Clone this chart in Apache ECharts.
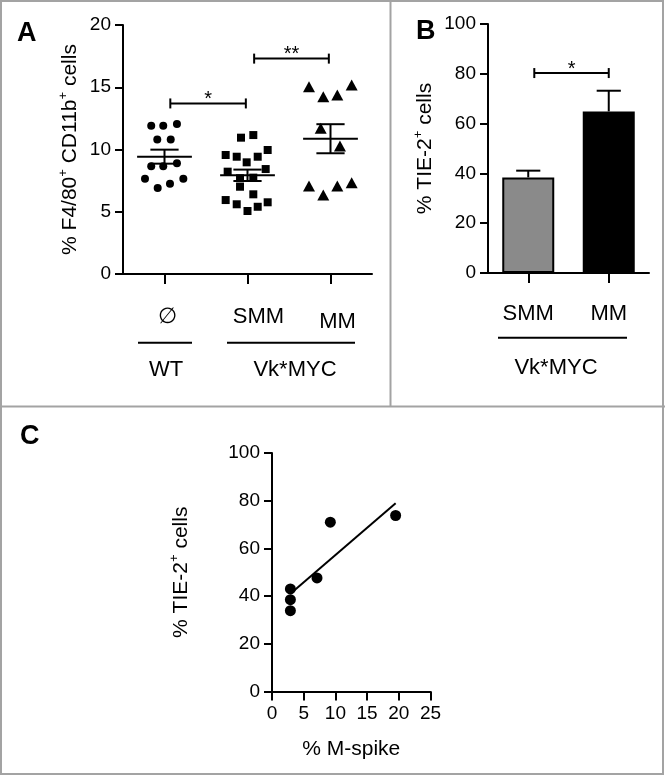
<!DOCTYPE html>
<html>
<head>
<meta charset="utf-8">
<script src="https://cdn.jsdelivr.net/npm/echarts@6/dist/echarts.min.js"></script>
<style>
  html, body { margin: 0; padding: 0; background: #ffffff; }
  #chart { width: 665px; height: 776px; }
</style>
</head>
<body>
<div id="chart"></div>
<script>
// ---------------- Panel A data ----------------
const groupsA = ['\u2205', 'SMM', 'MM'];
const yTicksA = [0, 5, 10, 15, 20];
const wtValues  = [11.9, 11.9, 12.05, 10.8, 10.8, 8.65, 8.65, 8.9, 7.65, 7.65, 6.9, 7.25];
const wtJitter  = [-0.16, -0.015, 0.15, -0.087, 0.075, -0.16, -0.015, 0.15, -0.235, 0.227, -0.082, 0.066];
const smmValues = [10.95, 11.16, 9.56, 9.42, 9.42, 9.96, 8.97, 8.22, 8.43, 7.69, 7.74, 7.01, 5.94, 5.6, 5.06, 5.4, 5.76, 6.4];
const smmJitter = [-0.078, 0.07, -0.263, -0.13, 0.123, 0.243, -0.01, -0.239, 0.219, -0.09, 0.07, -0.09, -0.263, -0.13, 0, 0.123, 0.243, 0.07];
const mmValues  = [15.05, 14.24, 14.38, 15.18, 11.7, 10.28, 7.07, 6.35, 7.07, 7.33];
const mmJitter  = [-0.259, -0.087, 0.082, 0.255, -0.118, 0.114, -0.259, -0.087, 0.082, 0.255];
const sigAStart = [0.07, 1.08];
const sigAEnd   = [0.98, 1.98];
const sigAY     = [13.7, 17.3];
const sigALabel = ['*', '**'];

// ---------------- Panel B data ----------------
const groupsB = ['SMM', 'MM'];
const yTicksB = [0, 20, 40, 60, 80, 100];
const barMeans = [38.4, 64.9];
const barErr   = [2.7, 8.3];
const sigBStart = [0.075];
const sigBEnd   = [1.0];
const sigBY     = [80.3];
const sigBLabel = ['*'];

// ---------------- Panel C data ----------------
const xTicksC = [0, 5, 10, 15, 20, 25];
const yTicksC = [0, 20, 40, 60, 80, 100];
const mSpike = [2.9, 2.9, 2.9, 7.1, 9.2, 19.5];
const tie2   = [43.0, 38.5, 33.9, 47.6, 71.0, 73.8];

// ---------------- helpers ----------------
const FONT = "'Liberation Sans', Arial, Helvetica, sans-serif";
function meanSem(arr) {
  const n = arr.length;
  const m = arr.reduce((a, b) => a + b, 0) / n;
  const v = arr.reduce((a, b) => a + (b - m) * (b - m), 0) / (n - 1);
  return [m, Math.sqrt(v) / Math.sqrt(n)];
}
function linFit(xs, ys) {
  const n = xs.length;
  const mx = xs.reduce((a, b) => a + b, 0) / n;
  const my = ys.reduce((a, b) => a + b, 0) / n;
  let sxx = 0, sxy = 0;
  for (let i = 0; i < n; i++) { sxx += (xs[i] - mx) ** 2; sxy += (xs[i] - mx) * (ys[i] - my); }
  const b = sxy / sxx, a = my - b * mx;
  const x0 = Math.min(...xs), x1 = Math.max(...xs);
  return [[x0, a + b * x0], [x1, a + b * x1]];
}
const statsA = [wtValues, smmValues, mmValues].map((arr, i) => { const s = meanSem(arr); return [i, s[0], s[1]]; });
const fitC = linFit(mSpike, tie2);

const axisLine = { show: true, onZero: false, lineStyle: { color: '#000', width: 2 } };
const axisTick = { show: true, length: 8, lineStyle: { color: '#000', width: 2 } };
const tickLabel = { color: '#000', fontSize: 19, fontFamily: FONT, margin: 12 };
const supRich = {
  sup: { fontSize: 13, fontFamily: FONT, color: '#000', verticalAlign: 'top', lineHeight: 14 }
};
const nameStyle = { color: '#000', fontSize: 21, fontFamily: FONT, lineHeight: 26, rich: supRich };

function bracketRender(starts, ends, ys, labels) {
  return function (params, api) {
    const i = params.dataIndex;
    const p1 = api.coord([starts[i], ys[i]]);
    const p2 = api.coord([ends[i], ys[i]]);
    const st = { stroke: '#000', lineWidth: 2 };
    return {
      type: 'group',
      children: [
        { type: 'line', shape: { x1: p1[0], y1: p1[1], x2: p2[0], y2: p2[1] }, style: st },
        { type: 'line', shape: { x1: p1[0], y1: p1[1] - 5, x2: p1[0], y2: p1[1] + 5 }, style: st },
        { type: 'line', shape: { x1: p2[0], y1: p2[1] - 5, x2: p2[0], y2: p2[1] + 5 }, style: st },
        { type: 'text', style: { text: labels[i], x: (p1[0] + p2[0]) / 2, y: p1[1] - 4,
            textAlign: 'center', textVerticalAlign: 'middle', fontSize: 20, fontFamily: FONT, fill: '#000' } }
      ]
    };
  };
}

const chart = echarts.init(document.getElementById('chart'), null, { renderer: 'canvas' });

const option = {
  backgroundColor: '#ffffff',
  animation: false,
  grid: [
    { left: 123, top: 25, width: 249, height: 249 },
    { left: 488, top: 24, width: 161, height: 249 },
    { left: 272, top: 453, width: 158.5, height: 238.5 }
  ],
  xAxis: [
    { // 0: panel A categories
      type: 'category', gridIndex: 0, data: groupsA, boundaryGap: true,
      axisLine: axisLine, axisTick: Object.assign({ alignWithLabel: true, interval: 0 }, axisTick, { length: 10 }),
      axisLabel: {
        interval: 0, color: '#000', fontSize: 22, fontFamily: FONT, margin: 32, hideOverlap: false,
        formatter: function (v, i) { return ['{a|' + v + '}', '{s|' + v + '}', '{m|' + v + '}'][i]; },
        rich: {
          a: { fontSize: 22, fontFamily: FONT, color: '#000', padding: [0, 0, 0, 6] },
          s: { fontSize: 22, fontFamily: FONT, color: '#000', padding: [0, 0, 0, 22] },
          m: { fontSize: 22, fontFamily: FONT, color: '#000', padding: [5, 0, 0, 14] }
        }
      },
      splitLine: { show: false }
    },
    { // 1: panel A hidden value axis
      type: 'value', gridIndex: 0, min: -0.5, max: groupsA.length - 0.5, show: false,
      axisLine: { onZero: false }
    },
    { // 2: panel B categories
      type: 'category', gridIndex: 1, data: groupsB, boundaryGap: true,
      axisLine: axisLine, axisTick: Object.assign({ alignWithLabel: true, interval: 0 }, axisTick, { length: 10 }),
      axisLabel: { interval: 0, color: '#000', fontSize: 22, fontFamily: FONT, margin: 30 },
      splitLine: { show: false }
    },
    { // 3: panel B hidden value axis
      type: 'value', gridIndex: 1, min: -0.5, max: groupsB.length - 0.5, show: false,
      axisLine: { onZero: false }
    },
    { // 4: panel C x
      type: 'value', gridIndex: 2, min: xTicksC[0], max: xTicksC[xTicksC.length - 1],
      interval: xTicksC[1] - xTicksC[0],
      axisLine: axisLine, axisTick: Object.assign({}, axisTick, { length: 9 }),
      axisLabel: Object.assign({}, tickLabel, { margin: 13 }),
      splitLine: { show: false },
      name: '% M-spike', nameLocation: 'middle', nameGap: 45, nameTextStyle: nameStyle
    }
  ],
  yAxis: [
    {
      type: 'value', gridIndex: 0, min: yTicksA[0], max: yTicksA[yTicksA.length - 1],
      interval: yTicksA[1] - yTicksA[0],
      axisLine: axisLine, axisTick: axisTick, axisLabel: tickLabel, splitLine: { show: false },
      name: '% F4/80{sup|+} CD11b{sup|+} cells', nameLocation: 'middle', nameRotate: 90, nameGap: 40,
      nameTextStyle: nameStyle
    },
    {
      type: 'value', gridIndex: 1, min: yTicksB[0], max: yTicksB[yTicksB.length - 1],
      interval: yTicksB[1] - yTicksB[0],
      axisLine: axisLine, axisTick: axisTick, axisLabel: tickLabel, splitLine: { show: false },
      name: '% TIE-2{sup|+} cells', nameLocation: 'middle', nameRotate: 90, nameGap: 50,
      nameTextStyle: nameStyle
    },
    {
      type: 'value', gridIndex: 2, min: yTicksC[0], max: yTicksC[yTicksC.length - 1],
      interval: yTicksC[1] - yTicksC[0],
      axisLine: axisLine, axisTick: axisTick, axisLabel: tickLabel, splitLine: { show: false },
      name: '% TIE-2{sup|+} cells', nameLocation: 'middle', nameRotate: 90, nameGap: 78,
      nameTextStyle: nameStyle
    }
  ],
  series: [
    {
      name: 'WT', type: 'scatter', xAxisIndex: 1, yAxisIndex: 0,
      symbol: 'circle', symbolSize: 8, itemStyle: { color: '#000', opacity: 1 },
      data: wtValues.map((v, i) => [0 + wtJitter[i], v]), z: 3
    },
    {
      name: 'SMM', type: 'scatter', xAxisIndex: 1, yAxisIndex: 0,
      symbol: 'rect', symbolSize: 8, itemStyle: { color: '#000', opacity: 1 },
      data: smmValues.map((v, i) => [1 + smmJitter[i], v]), z: 3
    },
    {
      name: 'MM', type: 'scatter', xAxisIndex: 1, yAxisIndex: 0,
      symbol: 'triangle', symbolSize: [12, 11], itemStyle: { color: '#000', opacity: 1 },
      data: mmValues.map((v, i) => [2 + mmJitter[i], v]), z: 3
    },
    {
      name: 'mean ± SEM', type: 'custom', xAxisIndex: 1, yAxisIndex: 0, z: 4,
      data: statsA,
      renderItem: function (params, api) {
        const x = api.value(0), m = api.value(1), s = api.value(2);
        const c = api.coord([x, m]), up = api.coord([x, m + s]), lo = api.coord([x, m - s]);
        const unit = api.size([1, 0])[0];
        const hw = unit * 0.33, cw = unit * 0.17;
        const st = { stroke: '#000', lineWidth: 2 };
        return {
          type: 'group',
          children: [
            { type: 'line', shape: { x1: c[0] - hw, y1: c[1], x2: c[0] + hw, y2: c[1] }, style: st },
            { type: 'line', shape: { x1: c[0], y1: up[1], x2: c[0], y2: lo[1] }, style: st },
            { type: 'line', shape: { x1: c[0] - cw, y1: up[1], x2: c[0] + cw, y2: up[1] }, style: st },
            { type: 'line', shape: { x1: c[0] - cw, y1: lo[1], x2: c[0] + cw, y2: lo[1] }, style: st }
          ]
        };
      }
    },
    {
      name: 'sigA', type: 'custom', xAxisIndex: 1, yAxisIndex: 0, z: 4,
      data: sigAY.map((y, i) => [sigAStart[i], y, sigAEnd[i]]),
      renderItem: bracketRender(sigAStart, sigAEnd, sigAY, sigALabel)
    },
    {
      name: 'TIE-2 bars', type: 'bar', xAxisIndex: 2, yAxisIndex: 1, barWidth: 52,
      data: barMeans.map((v, i) => ({
        value: v,
        itemStyle: { color: i === 0 ? '#8a8a8a' : '#000000', borderColor: '#000', borderWidth: 2, opacity: 1 }
      }))
    },
    {
      name: 'TIE-2 SEM', type: 'custom', xAxisIndex: 3, yAxisIndex: 1, z: 4,
      data: barMeans.map((v, i) => [i, v, barErr[i]]),
      renderItem: function (params, api) {
        const x = api.value(0), m = api.value(1), s = api.value(2);
        const c = api.coord([x, m]), up = api.coord([x, m + s]);
        const cw = api.size([1, 0])[0] * 0.15;
        const st = { stroke: '#000', lineWidth: 2 };
        return {
          type: 'group',
          children: [
            { type: 'line', shape: { x1: c[0], y1: c[1], x2: c[0], y2: up[1] }, style: st },
            { type: 'line', shape: { x1: c[0] - cw, y1: up[1], x2: c[0] + cw, y2: up[1] }, style: st }
          ]
        };
      }
    },
    {
      name: 'sigB', type: 'custom', xAxisIndex: 3, yAxisIndex: 1, z: 4,
      data: sigBY.map((y, i) => [sigBStart[i], y, sigBEnd[i]]),
      renderItem: bracketRender(sigBStart, sigBEnd, sigBY, sigBLabel)
    },
    {
      name: 'M-spike vs TIE-2', type: 'scatter', xAxisIndex: 4, yAxisIndex: 2,
      symbol: 'circle', symbolSize: 11, itemStyle: { color: '#000', opacity: 1 },
      data: mSpike.map((x, i) => [x, tie2[i]]), z: 3
    },
    {
      name: 'fit', type: 'line', xAxisIndex: 4, yAxisIndex: 2,
      data: fitC, symbol: 'none', lineStyle: { color: '#000', width: 2 }, z: 2
    }
  ],
  graphic: [
    { type: 'rect', shape: { x: 1, y: 1, width: 662, height: 773 }, style: { fill: 'none', stroke: '#a3a3a3', lineWidth: 2 }, silent: true },
    { type: 'line', shape: { x1: 390.5, y1: 0, x2: 390.5, y2: 406.5 }, style: { stroke: '#a3a3a3', lineWidth: 2 }, silent: true },
    { type: 'line', shape: { x1: 0, y1: 406.5, x2: 665, y2: 406.5 }, style: { stroke: '#a3a3a3', lineWidth: 2 }, silent: true },
    { type: 'text', left: 17, top: 20, style: { text: 'A', font: 'bold 27px ' + FONT, fill: '#000' } },
    { type: 'text', left: 416, top: 18, style: { text: 'B', font: 'bold 27px ' + FONT, fill: '#000' } },
    { type: 'text', left: 20, top: 423, style: { text: 'C', font: 'bold 27px ' + FONT, fill: '#000' } },
    { type: 'line', shape: { x1: 138, y1: 342.7, x2: 192, y2: 342.7 }, style: { stroke: '#000', lineWidth: 2 } },
    { type: 'line', shape: { x1: 227, y1: 342.7, x2: 355, y2: 342.7 }, style: { stroke: '#000', lineWidth: 2 } },
    { type: 'line', shape: { x1: 498, y1: 337.7, x2: 627, y2: 337.7 }, style: { stroke: '#000', lineWidth: 2 } },
    { type: 'text', x: 166, y: 370, style: { text: 'WT', font: '22px ' + FONT, fill: '#000', textAlign: 'center', textVerticalAlign: 'middle' } },
    { type: 'text', x: 295, y: 370, style: { text: 'Vk*MYC', font: '22px ' + FONT, fill: '#000', textAlign: 'center', textVerticalAlign: 'middle' } },
    { type: 'text', x: 556, y: 368, style: { text: 'Vk*MYC', font: '22px ' + FONT, fill: '#000', textAlign: 'center', textVerticalAlign: 'middle' } }
  ]
};
chart.setOption(option);
</script>
</body>
</html>
